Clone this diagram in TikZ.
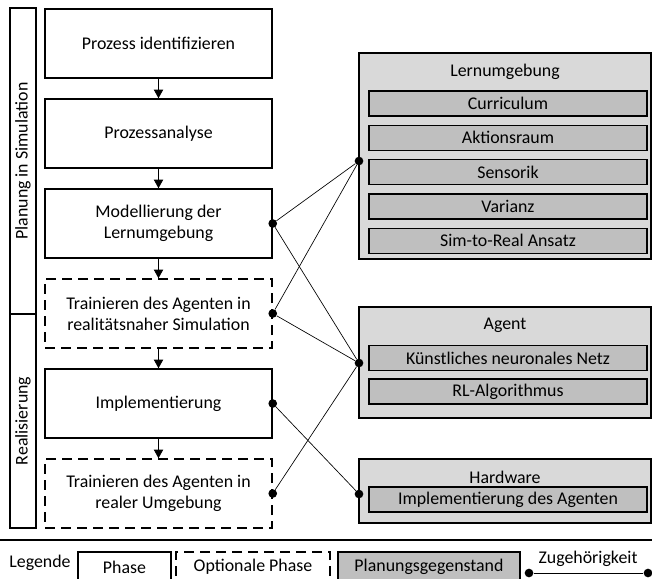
\documentclass[tikz,border=0pt]{standalone}
\usepackage{fontspec}
\setmainfont{Carlito}
\usetikzlibrary{arrows.meta}
\definecolor{groupgray}{HTML}{D9D9D9}
\definecolor{itemgray}{HTML}{BFBFBF}

\begin{document}
\begin{tikzpicture}[x=0.75pt,y=-0.75pt,
  every node/.style={font=\fontsize{13.4pt}{15.9pt}\selectfont},
  phase/.style={draw, line width=1.1pt, minimum width=170.25pt, minimum height=51.75pt, align=center, inner sep=0pt},
  optphase/.style={phase, dash pattern=on 7.5pt off 4.5pt},
  bar/.style={draw, line width=1.1pt, minimum width=19.5pt, inner sep=0pt},
  group/.style={draw, line width=1.1pt, fill=groupgray, minimum width=219pt, inner sep=0pt},
  item/.style={draw, line width=1pt, fill=itemgray, minimum width=208.5pt, minimum height=18.75pt, inner sep=0pt},
  flow/.style={line width=0.6pt, -{Triangle[length=6.5pt,width=7pt]}},
  link/.style={line width=0.5pt},
  dot/.style={circle, fill=black, inner sep=0pt, minimum size=6.5pt}]

\useasboundingbox (0,0) rectangle (652,578);

% phase column
\node[phase] (p1) at (158.5,43.5) {Prozess identifizieren};
\node[phase] (p2) at (158.5,133.5) {Prozessanalyse};
\node[phase] (p3) at (158.5,223.5) {Modellierung der\\Lernumgebung};
\node[optphase] (p4) at (158.5,313.5) {Trainieren des Agenten in\\realitätsnaher Simulation};
\node[phase] (p5) at (158.5,403.5) {Implementierung};
\node[optphase] (p6) at (158.5,493.5) {Trainieren des Agenten in\\realer Umgebung};

\draw[flow] (p1.south) -- (p2.north);
\draw[flow] (p2.south) -- (p3.north);
\draw[flow] (p3.south) -- (p4.north);
\draw[flow] (p4.south) -- (p5.north);
\draw[flow] (p5.south) -- (p6.north);

% stage bars
\node[bar, minimum height=229.5pt] (sim) at (23,161) {};
\node[rotate=90] (simt) at (sim.center) {Planung in Simulation};
\node[bar, minimum height=160.5pt] (real) at (23,421) {};
\node[rotate=90] (realt) at (real.center) {Realisierung};

% planning objects
\node[group, minimum height=154.5pt] (lern) at (505,156) {};
\node (lernt) at (505,72) {Lernumgebung};
\node[item] (i1) at (508,103.5) {Curriculum};
\node[item] (i2) at (508,137.8) {Aktionsraum};
\node[item] (i3) at (508,172.1) {Sensorik};
\node[item] (i4) at (508,206.4) {Varianz};
\node[item] (i5) at (508,240.7) {Sim-to-Real Ansatz};

\node[group, minimum height=83.25pt] (agent) at (505,362.5) {};
\node (agentt) at (505,325) {Agent};
\node[item] (a1) at (508,358) {Künstliches neuronales Netz};
\node[item] (a2) at (508,391.5) {RL-Algorithmus};

\node[group, minimum height=48pt] (hw) at (505,491) {};
\node (hwt) at (505,477) {Hardware};
\node[item] (h1) at (508,499.5) {Implementierung des Agenten};

% association dots
\node[dot] (d3) at (p3.east) {};
\node[dot] (d4) at (p4.east) {};
\node[dot] (d5) at (p5.east) {};
\node[dot] (d6) at (p6.east) {};
\node[dot] (dl) at (359,161) {};
\node[dot] (da) at (359,363) {};
\node[dot] (dh) at (359,494) {};

\draw[link] (d3) -- (dl);
\draw[link] (d3) -- (da);
\draw[link] (d4) -- (dl);
\draw[link] (d4) -- (da);
\draw[link] (d5) -- (dh);
\draw[link] (d6) -- (da);

% legend
\coordinate (sepl) at (0,540);
\coordinate (sepr) at (652,540);
\draw[line width=1.5pt] (sepl) -- (sepr);
\node (leg) at (40,563) {Legende};
\node[draw, line width=1.1pt, minimum width=69.75pt, minimum height=22.5pt, inner sep=0pt] (lphase) at (124.5,567) {Phase};
\node[draw, line width=1.1pt, dash pattern=on 7.5pt off 4.5pt, minimum width=115.5pt, minimum height=22.5pt, inner sep=0pt] (lopt) at (253,567) {Optionale Phase};
\node[draw, line width=1.1pt, fill=itemgray, minimum width=136.5pt, minimum height=22.5pt, inner sep=0pt] (lobj) at (429,567) {Planungsgegenstand};
\node[dot] (lda) at (529,573) {};
\node[dot] (ldb) at (648,573) {};
\draw[link] (lda) -- (ldb);
\node (lassoc) at (588,559) {Zugehörigkeit};
\end{tikzpicture}
\end{document}
